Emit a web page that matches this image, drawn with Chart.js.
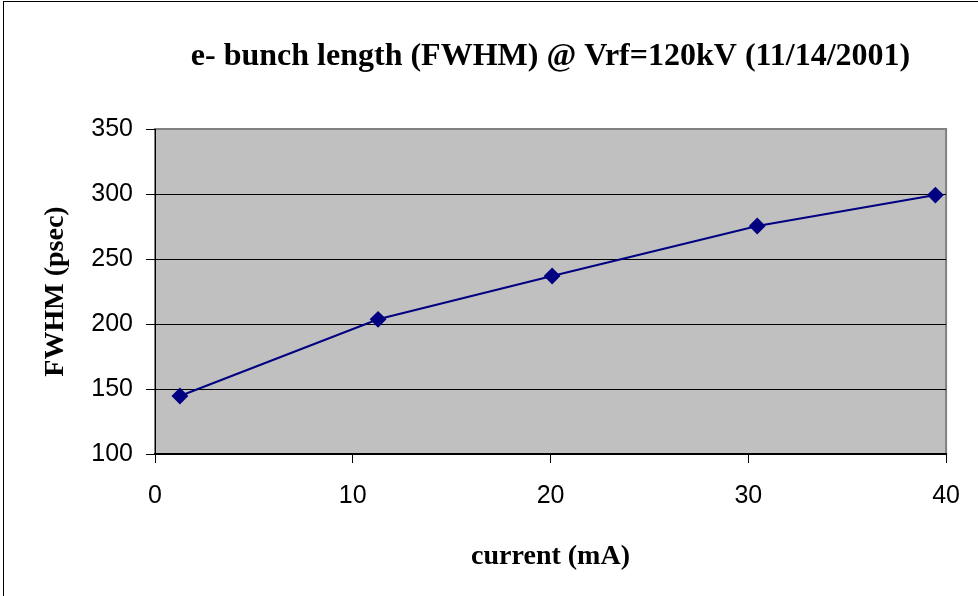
<!DOCTYPE html>
<html>
<head>
<meta charset="utf-8">
<script src="https://cdn.jsdelivr.net/npm/chart.js@4.4.0/dist/chart.umd.min.js"></script>
<style>
  html, body { margin: 0; padding: 0; background: #ffffff; }
  #wrap { width: 978px; height: 596px; position: relative; }
</style>
</head>
<body>
<div id="wrap"><canvas id="c" width="978" height="596"></canvas></div>
<script>
const chartTitle = 'e- bunch length (FWHM) @ Vrf=120kV (11/14/2001)';
const xAxisTitle = 'current (mA)';
const yAxisTitle = 'FWHM (psec)';
const currents = [1.26, 11.28, 20.08, 30.45, 39.46];
const fwhm = [144.6, 203.6, 236.9, 275.4, 299.2];
const xTicks = [0, 10, 20, 30, 40];
const yTicks = [100, 150, 200, 250, 300, 350];

const plotBg = {
  id: 'plotBg',
  beforeDraw(chart) {
    const { ctx, chartArea: a } = chart;
    ctx.save();
    ctx.fillStyle = '#ffffff';
    ctx.fillRect(0, 0, chart.width, chart.height);
    ctx.strokeStyle = '#000000';
    ctx.lineWidth = 1;
    ctx.strokeRect(3.5, 1.5, 2000, 2000);
    ctx.fillStyle = '#c0c0c0';
    ctx.fillRect(a.left, a.top, a.right - a.left, a.bottom - a.top);
    ctx.strokeStyle = '#808080';
    ctx.lineWidth = 2;
    ctx.strokeRect(a.left, a.top, a.right - a.left, a.bottom - a.top);
    ctx.restore();
  }
};

new Chart(document.getElementById('c'), {
  type: 'scatter',
  data: {
    datasets: [{
      data: currents.map((x, i) => ({ x: x, y: fwhm[i] })),
      showLine: true,
      borderColor: '#000080',
      backgroundColor: '#000080',
      borderWidth: 2,
      pointStyle: 'rectRot',
      pointRadius: 7,
      pointHoverRadius: 7,
      tension: 0
    }]
  },
  options: {
    responsive: false,
    animation: false,
    devicePixelRatio: 1,
    layout: { padding: { left: 0, right: 30, top: 0, bottom: 0 } },
    plugins: {
      legend: { display: false },
      tooltip: { enabled: false },
      title: {
        display: true,
        text: chartTitle,
        fullSize: false,
        color: '#000000',
        font: { family: 'Liberation Serif', size: 32, weight: 'bold', lineHeight: 1.2 },
        padding: { top: 38, bottom: 52.6 }
      }
    },
    scales: {
      x: {
        type: 'linear',
        min: 0, max: 40,
        afterFit(s) { s.height = 142; },
        afterBuildTicks(s) { s.ticks = xTicks.map(v => ({ value: v })); },
        ticks: {
          color: '#000000',
          padding: 18,
          maxRotation: 0,
          font: { family: 'Liberation Sans', size: 25 }
        },
        grid: {
          drawOnChartArea: false,
          drawTicks: true,
          tickLength: 9,
          tickColor: '#000000'
        },
        border: { display: true, color: '#000000', width: 2 },
        title: {
          display: true,
          text: xAxisTitle,
          color: '#000000',
          font: { family: 'Liberation Serif', size: 28, weight: 'bold', lineHeight: 1.2 },
          padding: { top: 0, bottom: 22 }
        }
      },
      y: {
        type: 'linear',
        min: 100, max: 350,
        afterFit(s) { s.width = 155; },
        afterBuildTicks(s) { s.ticks = yTicks.map(v => ({ value: v })); },
        ticks: {
          color: '#000000',
          padding: 13,
          font: { family: 'Liberation Sans', size: 25 }
        },
        grid: {
          drawOnChartArea: true,
          drawTicks: true,
          tickLength: 9,
          color: (ctx) => (ctx.tick && (ctx.tick.value === 350 || ctx.tick.value === 100)) ? 'rgba(0,0,0,0)' : '#000000',
          tickColor: '#000000',
          lineWidth: 1
        },
        border: { display: true, color: '#000000', width: 1 },
        title: {
          display: true,
          text: yAxisTitle,
          color: '#000000',
          font: { family: 'Liberation Serif', size: 28, weight: 'bold', lineHeight: 1.2 },
          padding: { top: 39, bottom: 0 }
        }
      }
    }
  },
  plugins: [plotBg]
});
</script>
</body>
</html>
